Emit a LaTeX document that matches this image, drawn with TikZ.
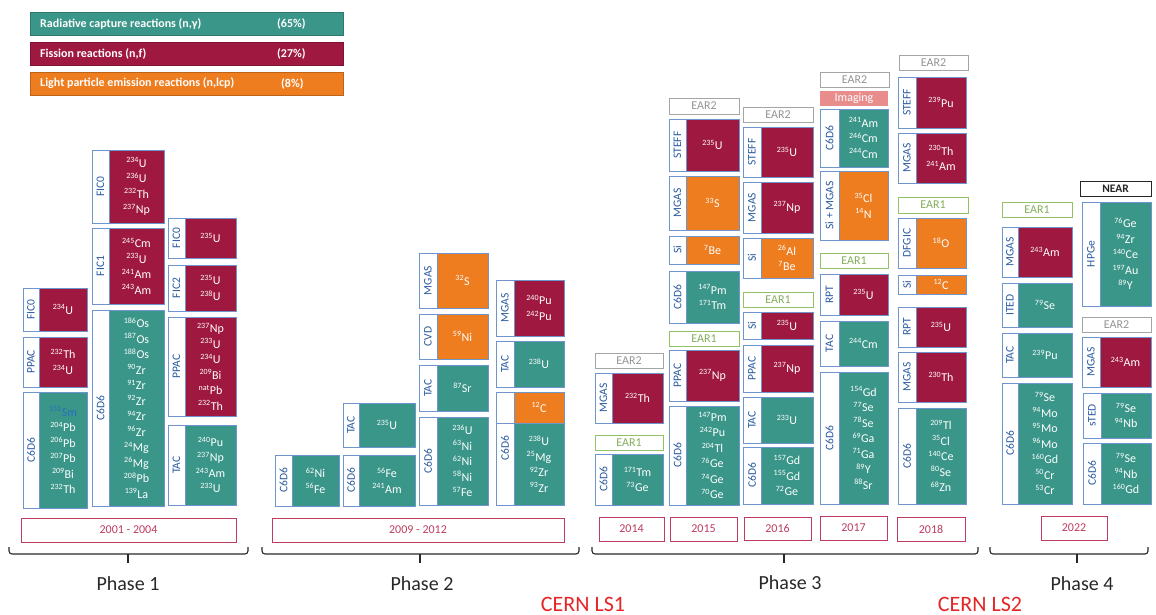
\documentclass[tikz,border=0pt]{standalone}
\usepackage{fontspec}
\setmainfont{Carlito}
\definecolor{tealc}{RGB}{58,150,137}
\definecolor{crimc}{RGB}{158,24,64}
\definecolor{orangec}{RGB}{238,125,32}
\definecolor{boxblue}{RGB}{110,150,205}
\definecolor{lblue}{RGB}{40,90,160}
\definecolor{smblue}{RGB}{40,110,190}
\definecolor{yearc}{RGB}{190,60,95}
\definecolor{ear2c}{RGB}{165,165,165}
\definecolor{ear1c}{RGB}{145,195,100}
\definecolor{imgc}{RGB}{232,140,140}
\definecolor{cernc}{RGB}{228,38,38}
\definecolor{phasec}{RGB}{40,40,40}
\newcommand{\is}[2]{\textsuperscript{#1}#2}
\tikzset{
  boxline/.style={draw=boxblue,line width=0.8pt},
  striplabel/.style={rotate=90,text=lblue,font=\fontsize{11.5}{12}\selectfont,inner sep=0pt},
  isotext/.style={text=white,align=center,font=\fontsize{12}{15.5}\selectfont,inner sep=0pt},
  tagbox/.style={inner sep=0pt,line width=0.9pt},
  yearbox/.style={tagbox,draw=yearc,text=yearc,font=\fontsize{12}{13}\selectfont},
  eartwo/.style={tagbox,draw=ear2c,text=ear2c!90!black,font=\fontsize{12}{13}\selectfont},
  earone/.style={tagbox,draw=ear1c,text=ear1c!90!black,font=\fontsize{12}{13}\selectfont},
  nearbox/.style={tagbox,draw=black!85,text=black!85,font=\bfseries\fontsize{11.5}{13}\selectfont},
  imgbox/.style={tagbox,fill=imgc,text=white,font=\fontsize{12}{13}\selectfont},
  legtext/.style={text=white,font=\bfseries\fontsize{12}{13}\selectfont,anchor=west,inner sep=0pt},
  bracel/.style={draw=phasec,line width=1.1pt,rounded corners=3pt},
  phasetext/.style={text=phasec,font=\fontsize{20}{22}\selectfont},
  cerntext/.style={text=cernc,font=\fontsize{22}{24}\selectfont},
}
% #1 name, #2 x1, #3 y1, #4 x2, #5 y2, #6 strip width, #7 label, #8 colour, #9 content
\newcommand{\ibox}[9]{%
  \fill[#8] ({#2+#6},#3) rectangle (#4,#5);
  \draw[boxline] (#2,#3) rectangle (#4,#5);
  \draw[boxline] ({#2+#6},#3) -- ({#2+#6},#5);
  \node[striplabel] (#1-l) at ({#2+#6/2},{(#3+#5)/2}) {#7};
  \node[isotext] (#1) at ({(#2+#6+#4)/2},{(#3+#5)/2}) {#9};
}
% #1 name, #2 x1, #3 y1, #4 x2, #5 y2, #6 style, #7 text
\newcommand{\tbox}[7]{%
  \node[#6,minimum width={#4-#2},minimum height={#5-#3}] (#1) at ({(#2+#4)/2},{(#3+#5)/2}) {#7};
}
% #1 name, #2 x1, #3 x2, #4 tick x
\newcommand{\pbrace}[4]{%
  \coordinate (#1-a) at (#2,547);
  \coordinate (#1-b) at (#3,547);
  \coordinate (#1-m) at (#4,554);
  \draw[bracel] (#1-a) -- (#2,554) -- (#3,554) -- (#1-b);
  \draw[draw=phasec,line width=1.1pt] (#1-m) -- ++(0,9);
}
\begin{document}
\begin{tikzpicture}[x=1pt,y=-1pt]
\useasboundingbox (0,0) rectangle (1156,615);
\fill[white] (0,0) rectangle (1156,615);

% legend
\fill[tealc] (30,12) rectangle (343,35);
\fill[crimc] (30,42) rectangle (343,65);
\fill[orangec] (30,72) rectangle (343,95);
\draw[tealc!80!black,line width=0.6pt] (30,12) rectangle (343,35);
\draw[crimc!80!black,line width=0.6pt] (30,42) rectangle (343,65);
\draw[orangec!80!black,line width=0.6pt] (30,72) rectangle (343,95);
\node[legtext] (lg1) at (40,23.5) {Radiative capture reactions (n,γ)};
\node[legtext] (lg1p) at (277,23.5) {(65\%)};
\node[legtext] (lg2) at (40,53.5) {Fission reactions (n,f)};
\node[legtext] (lg2p) at (277,53.5) {(27\%)};
\node[legtext] (lg3) at (40,83.5) {Light particle emission reactions (n,lcp)};
\node[legtext] (lg3p) at (281,83.5) {(8\%)};

% ---------------- Phase 1 ----------------
\ibox{a1}{23}{288}{87}{331}{16}{FIC0}{crimc}{\is{234}{U}}
\ibox{a2}{23}{337}{87}{387}{16}{PPAC}{crimc}{\is{232}{Th}\\\is{234}{U}}
\ibox{a3}{23}{392}{87}{508}{16}{C6D6}{tealc}{{\color{smblue}\is{151}{Sm}}\\\is{204}{Pb}\\\is{206}{Pb}\\\is{207}{Pb}\\\is{209}{Bi}\\\is{232}{Th}}

\ibox{b1}{92}{150}{164}{223}{17}{FIC0}{crimc}{\is{234}{U}\\\is{236}{U}\\\is{232}{Th}\\\is{237}{Np}}
\ibox{b2}{92}{228}{164}{304}{17}{FIC1}{crimc}{\is{245}{Cm}\\\is{233}{U}\\\is{241}{Am}\\\is{243}{Am}}
\ibox{b3}{92}{310}{164}{506}{17}{C6D6}{tealc}{\is{186}{Os}\\\is{187}{Os}\\\is{188}{Os}\\\is{90}{Zr}\\\is{91}{Zr}\\\is{92}{Zr}\\\is{94}{Zr}\\\is{96}{Zr}\\\is{24}{Mg}\\\is{26}{Mg}\\\is{208}{Pb}\\\is{139}{La}}

\ibox{c1}{168}{218}{236}{258}{17}{FIC0}{crimc}{\is{235}{U}}
\ibox{c2}{168}{265}{236}{311}{17}{FIC2}{crimc}{\is{235}{U}\\\is{238}{U}}
\ibox{c3}{168}{317}{236}{416}{17}{PPAC}{crimc}{\is{237}{Np}\\\is{233}{U}\\\is{234}{U}\\\is{209}{Bi}\\\is{nat}{Pb}\\\is{232}{Th}}
\ibox{c4}{168}{425}{236}{505}{17}{TAC}{tealc}{\is{240}{Pu}\\\is{237}{Np}\\\is{243}{Am}\\\is{233}{U}}

\tbox{y1}{21}{518}{236}{542}{yearbox}{2001 - 2004}

% ---------------- Phase 2 ----------------
\ibox{d1}{275}{455}{339}{506}{17}{C6D6}{tealc}{\is{62}{Ni}\\\is{56}{Fe}}
\ibox{e1}{343}{403}{415}{447}{16}{TAC}{tealc}{\is{235}{U}}
\ibox{e2}{343}{455}{415}{506}{16}{C6D6}{tealc}{\is{56}{Fe}\\\is{241}{Am}}
\ibox{f1}{419}{253}{488}{308}{18}{MGAS}{orangec}{\is{32}{S}}
\ibox{f2}{419}{314}{488}{359}{18}{CVD}{orangec}{\is{59}{Ni}}
\ibox{f3}{419}{365}{488}{411}{18}{TAC}{tealc}{\is{87}{Sr}}
\ibox{f4}{419}{417}{488}{505}{18}{C6D6}{tealc}{\is{236}{U}\\\is{63}{Ni}\\\is{62}{Ni}\\\is{58}{Ni}\\\is{57}{Fe}}
\ibox{g1}{496}{280}{564}{336}{18}{MGAS}{crimc}{\is{240}{Pu}\\\is{242}{Pu}}
\ibox{g2}{496}{341}{564}{387}{18}{TAC}{tealc}{\is{238}{U}}
\ibox{g3}{496}{423}{564}{505}{18}{}{tealc}{\is{238}{U}\\\is{25}{Mg}\\\is{92}{Zr}\\\is{93}{Zr}}
\fill[orangec] (514,392) rectangle (564,423);
\draw[boxline] (496,392) rectangle (564,505);
\draw[boxline] (514,392) -- (514,505);
\draw[boxline] (514,423) -- (564,423);
\node[isotext] (g3o) at (539,407.5) {\is{12}{C}};
\node[striplabel] (g3s) at (505,448.5) {C6D6};

\tbox{y2}{272}{518}{564}{542}{yearbox}{2009 - 2012}

% ---------------- Phase 3 : 2014 ----------------
\tbox{t14a}{595}{353}{663}{368}{eartwo}{EAR2}
\ibox{h1}{595}{373}{663}{423}{17}{MGAS}{crimc}{\is{232}{Th}}
\tbox{t14b}{595}{435}{663}{450}{earone}{EAR1}
\ibox{h2}{595}{454}{663}{505}{17}{C6D6}{tealc}{\is{171}{Tm}\\\is{73}{Ge}}
\tbox{y14}{599}{517}{664}{541}{yearbox}{2014}

% 2015
\tbox{t15a}{669}{98}{739}{114}{eartwo}{EAR2}
\ibox{i1}{669}{119}{739}{171}{17}{STEFF}{crimc}{\is{235}{U}}
\ibox{i2}{669}{176}{739}{230}{17}{MGAS}{orangec}{\is{33}{S}}
\ibox{i3}{669}{236}{739}{264}{17}{Si}{orangec}{\is{7}{Be}}
\ibox{i4}{669}{271}{739}{323}{17}{C6D6}{tealc}{\is{147}{Pm}\\\is{171}{Tm}}
\tbox{t15b}{669}{331}{739}{346}{earone}{EAR1}
\ibox{i5}{669}{350}{739}{401}{17}{PPAC}{crimc}{\is{237}{Np}}
\ibox{i6}{669}{406}{739}{505}{17}{C6D6}{tealc}{\is{147}{Pm}\\\is{242}{Pu}\\\is{204}{Tl}\\\is{76}{Ge}\\\is{74}{Ge}\\\is{70}{Ge}}
\tbox{y15}{670}{517}{737}{541}{yearbox}{2015}

% 2016
\tbox{t16a}{743}{107}{813}{122}{eartwo}{EAR2}
\ibox{j1}{743}{127}{813}{177}{18}{STEFF}{crimc}{\is{235}{U}}
\ibox{j2}{743}{182}{813}{233}{18}{MGAS}{crimc}{\is{237}{Np}}
\ibox{j3}{743}{238}{813}{278}{18}{Si}{orangec}{\is{26}{Al}\\\is{7}{Be}}
\tbox{t16b}{743}{292}{813}{307}{earone}{EAR1}
\ibox{j4}{743}{312}{813}{339}{18}{Si}{crimc}{\is{235}{U}}
\ibox{j5}{743}{345}{813}{392}{18}{PPAC}{crimc}{\is{237}{Np}}
\ibox{j6}{743}{397}{813}{443}{18}{TAC}{tealc}{\is{233}{U}}
\ibox{j7}{743}{447}{813}{504}{18}{C6D6}{tealc}{\is{157}{Gd}\\\is{155}{Gd}\\\is{72}{Ge}}
\tbox{y16}{744}{517}{811}{540}{yearbox}{2016}

% 2017
\tbox{t17a}{820}{72}{889}{87}{eartwo}{EAR2}
\tbox{t17i}{820}{91}{888}{106}{imgbox}{Imaging}
\ibox{k1}{820}{109}{888}{167}{19}{C6D6}{tealc}{\is{241}{Am}\\\is{246}{Cm}\\\is{244}{Cm}}
\ibox{k2}{820}{171}{888}{240}{19}{Si + MGAS}{orangec}{\is{35}{Cl}\\\is{14}{N}}
\tbox{t17b}{820}{253}{888}{268}{earone}{EAR1}
\ibox{k3}{820}{274}{888}{315}{19}{RPT}{crimc}{\is{235}{U}}
\ibox{k4}{820}{321}{888}{366}{19}{TAC}{tealc}{\is{244}{Cm}}
\ibox{k5}{820}{372}{888}{504}{19}{C6D6}{tealc}{\is{154}{Gd}\\\is{77}{Se}\\\is{78}{Se}\\\is{69}{Ga}\\\is{71}{Ga}\\\is{89}{Y}\\\is{88}{Sr}}
\tbox{y17}{820}{516}{887}{540}{yearbox}{2017}

% 2018
\tbox{t18a}{899}{55}{968}{70}{eartwo}{EAR2}
\ibox{l1}{898}{77}{966}{128}{18}{STEFF}{crimc}{\is{239}{Pu}}
\ibox{l2}{898}{133}{966}{183}{18}{MGAS}{crimc}{\is{230}{Th}\\\is{241}{Am}}
\tbox{t18b}{898}{197}{968}{213}{earone}{EAR1}
\ibox{l3}{898}{218}{966}{268}{18}{DFGIC}{orangec}{\is{18}{O}}
\ibox{l4}{898}{275}{966}{294}{18}{Si}{orangec}{\is{12}{C}}
\ibox{l5}{898}{307}{966}{347}{18}{RPT}{crimc}{\is{235}{U}}
\ibox{l6}{898}{352}{966}{402}{18}{MGAS}{crimc}{\is{230}{Th}}
\ibox{l7}{898}{408}{966}{504}{18}{C6D6}{tealc}{\is{209}{Tl}\\\is{35}{Cl}\\\is{140}{Ce}\\\is{80}{Se}\\\is{68}{Zn}}
\tbox{y18}{897}{517}{965}{541}{yearbox}{2018}

% ---------------- Phase 4 ----------------
\tbox{t22a}{1002}{202}{1072}{217}{earone}{EAR1}
\ibox{m1}{1002}{227}{1072}{277}{16}{MGAS}{crimc}{\is{243}{Am}}
\ibox{m2}{1002}{283}{1072}{327}{16}{ITED}{tealc}{\is{79}{Se}}
\ibox{m3}{1002}{333}{1072}{377}{16}{TAC}{tealc}{\is{239}{Pu}}
\ibox{m4}{1002}{383}{1072}{504}{16}{C6D6}{tealc}{\is{79}{Se}\\\is{94}{Mo}\\\is{95}{Mo}\\\is{96}{Mo}\\\is{160}{Gd}\\\is{50}{Cr}\\\is{53}{Cr}}
\tbox{t22n}{1080}{181}{1151}{196}{nearbox}{NEAR}
\ibox{n1}{1082}{202}{1151}{306}{18}{HPGe}{tealc}{\is{76}{Ge}\\\is{94}{Zr}\\\is{140}{Ce}\\\is{197}{Au}\\\is{89}{Y}}
\tbox{t22b}{1082}{317}{1151}{332}{eartwo}{EAR2}
\ibox{n2}{1082}{337}{1151}{387}{18}{MGAS}{crimc}{\is{243}{Am}}
\ibox{n3}{1083}{393}{1151}{438}{18}{sTED}{tealc}{\is{79}{Se}\\\is{94}{Nb}}
\ibox{n4}{1083}{443}{1151}{504}{18}{C6D6}{tealc}{\is{79}{Se}\\\is{94}{Nb}\\\is{160}{Gd}}
\tbox{y22}{1041}{516}{1107}{540}{yearbox}{2022}

% ---------------- braces and labels ----------------
\pbrace{p1}{9}{248}{128}
\pbrace{p2}{262}{579}{420}
\pbrace{p3}{592}{978}{784}
\pbrace{p4}{990}{1148}{1077}
\node[phasetext] (ph1) at (128,584) {Phase 1};
\node[phasetext] (ph2) at (422,584) {Phase 2};
\node[phasetext] (ph3) at (790,583) {Phase 3};
\node[phasetext] (ph4) at (1082,584) {Phase 4};
\node[cerntext] (ls1) at (583,604) {CERN LS1};
\node[cerntext] (ls2) at (980,604) {CERN LS2};
\end{tikzpicture}
\end{document}
